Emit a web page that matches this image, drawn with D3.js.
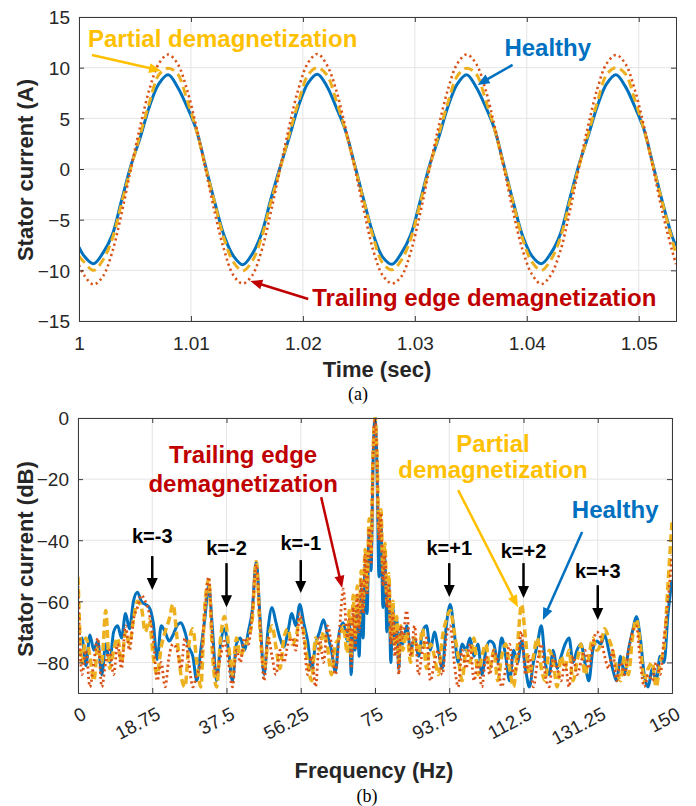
<!DOCTYPE html>
<html>
<head>
<meta charset="utf-8">
<script src="https://cdn.jsdelivr.net/npm/d3@7"></script>
<style>
  body { margin: 0; background: #fff; }
  svg { display: block; font-family: "Liberation Sans", Arial, sans-serif; }
</style>
</head>
<body>
<div id="chart"></div>
<script>
// ---------- (a) time domain ----------
const timeSec = [1.0, 1.00047,
  1.0013, 1.00213, 1.00297, 1.0038, 1.00463, 1.00547, 1.0063, 1.00713, 1.00797, 1.0088, 1.00963, 1.01047, 1.0113, 1.01213, 1.01297, 1.0138,
  1.01463, 1.01547, 1.0163, 1.01713, 1.01797, 1.0188, 1.01963, 1.02047, 1.0213, 1.02213, 1.02297, 1.0238, 1.02463, 1.02547, 1.0263, 1.02713,
  1.02797, 1.0288, 1.02963, 1.03047, 1.0313, 1.03213, 1.03297, 1.0338, 1.03463, 1.03547, 1.0363, 1.03713, 1.03797, 1.0388, 1.03963, 1.04047,
  1.0413, 1.04213, 1.04297, 1.0438, 1.04463, 1.04547, 1.0463, 1.04713, 1.04797, 1.0488, 1.04963, 1.05047, 1.0513, 1.05213, 1.05297,
  1.05333];

const healthyA = [-7.7, -8.6,
  -9.35, -8.3, -6.5, -3.1, 0.3, 3.1, 6.2, 8.4, 9.3, 8.1, 6.2, 3.9, 0.3, -3.3, -6.6, -8.6,
  -9.45, -8.4, -6.4, -3.0, 0.2, 3.2, 6.3, 8.5, 9.35, 8.2, 6.1, 3.8, 0.4, -3.2, -6.5, -8.7,
  -9.4, -8.3, -6.5, -3.2, 0.3, 3.1, 6.2, 8.4, 9.3, 8.1, 6.2, 3.9, 0.3, -3.3, -6.6, -8.6,
  -9.35, -8.35, -6.5, -3.1, 0.3, 3.2, 6.2, 8.4, 9.3, 8.15, 6.2, 3.9, 0.3, -3.3, -6.6,
  -7.6];

const partialA = [-8.6, -9.2,
  -10.0, -9.0, -6.9, -3.4, 0.1, 3.4, 6.6, 9.3, 9.95, 9.4, 6.9, 3.9, 0.2, -3.4, -6.9, -9.2,
  -10.05, -9.1, -6.8, -3.3, 0.0, 3.5, 6.7, 9.3, 10.0, 9.3, 6.8, 3.8, 0.3, -3.3, -6.8, -9.3,
  -9.95, -9.0, -6.9, -3.4, 0.1, 3.4, 6.6, 9.2, 9.95, 9.4, 6.9, 3.9, 0.2, -3.4, -6.9, -9.2,
  -10.0, -9.0, -6.9, -3.4, 0.1, 3.4, 6.6, 9.3, 10.0, 9.4, 6.9, 3.9, 0.2, -3.4, -6.9,
  -8.4];

const trailingA = [-9.5, -10.5,
  -11.4, -10.6, -8.2, -4.4, 0.0, 4.2, 7.9, 10.4, 11.3, 10.4, 7.9, 4.2, 0.0, -4.3, -8.0, -10.5,
  -11.3, -10.5, -8.1, -4.3, 0.1, 4.3, 8.0, 10.5, 11.35, 10.3, 7.8, 4.1, 0.1, -4.2, -8.1, -10.5,
  -11.3, -10.6, -8.2, -4.4, 0.0, 4.2, 7.9, 10.4, 11.3, 10.4, 7.9, 4.2, 0.0, -4.3, -8.0, -10.4,
  -11.35, -10.5, -8.2, -4.4, 0.0, 4.2, 7.9, 10.4, 11.25, 10.4, 7.9, 4.2, 0.0, -4.3, -8.0,
  -9.4];

const timeTicks = [1, 1.01, 1.02, 1.03, 1.04, 1.05];
const currentTicks = [-15, -10, -5, 0, 5, 10, 15];

// ---------- (b) spectrum ----------
// 1 Hz grid, 0.5 Hz around the fundamental
const freqHz = [...d3.range(0, 68, 1), ...d3.range(68, 82, 0.5), ...d3.range(82, 151, 1)];

const healthyDb = [
  -74, -72, -81, -71, -76, -73, -84, -74, -80, -70,
  -68, -72, -64, -69, -60, -57, -60, -61, -62, -67,
  -79, -68, -70, -73, -71, -68, -67, -70, -75, -78,
  -86, -76, -66, -55, -70, -86, -74, -69, -76, -86,
  -74, -72, -76, -70, -63, -47, -66, -84, -69, -62,
  -67, -72, -75, -70, -64, -68, -61, -67, -73, -82,
  -74, -70, -66, -71, -76, -83, -70, -67,
  -73, -66, -84, -70, -76, -62, -78, -56, -72, -48, -64, -38, -50, -15,
  0, -16, -52, -34, -62, -46, -70, -55, -80, -62, -72, -66, -82, -70,
  -74, -68, -76, -72, -78, -70, -68, -76,
  -70, -76, -82, -68, -61, -70, -80, -74, -76, -72,
  -78, -74, -84, -76, -73, -74, -80, -72, -78, -86,
  -76, -80, -73, -82, -88, -80, -74, -68, -80, -84,
  -76, -82, -78, -74, -72, -80, -76, -74, -80, -86,
  -76, -73, -74, -71, -76, -82, -86, -78, -84, -76,
  -70, -65, -72, -84, -88, -82, -86, -78, -80, -64, -53];

const partialDb = [
  -52, -80, -72, -78, -86, -75, -80, -63, -82, -76,
  -72, -80, -70, -74, -66, -60, -62, -70, -66, -78,
  -84, -75, -70, -66, -61, -72, -84, -88, -74, -69,
  -80, -88, -62, -53, -78, -88, -72, -65, -74, -84,
  -72, -78, -75, -72, -66, -47, -70, -82, -73, -68,
  -75, -82, -72, -69, -74, -72, -66, -70, -80, -86,
  -72, -76, -70, -75, -84, -74, -72, -68,
  -77, -63, -78, -58, -72, -55, -68, -50, -62, -43, -56, -33, -44, -12,
  0, -12, -38, -30, -50, -41, -60, -51, -72, -60, -75, -65, -80, -68,
  -76, -70, -80, -72, -77, -69, -82, -74,
  -78, -84, -72, -66, -63, -70, -78, -86, -76, -80,
  -72, -84, -78, -74, -82, -76, -86, -78, -74, -82,
  -88, -74, -61, -72, -84, -78, -72, -82, -86, -76,
  -80, -88, -78, -82, -76, -86, -80, -74, -84, -78,
  -72, -76, -74, -69, -72, -76, -82, -86, -78, -84,
  -72, -66, -74, -86, -82, -80, -88, -80, -75, -54, -34];

const trailingDb = [
  -55, -84, -76, -88, -80, -72, -88, -80, -76, -84,
  -74, -82, -68, -76, -66, -62, -58, -60, -64, -72,
  -86, -80, -88, -78, -74, -76, -82, -72, -80, -88,
  -84, -80, -64, -52, -74, -84, -78, -73, -80, -88,
  -76, -80, -72, -74, -64, -48, -68, -86, -72, -78,
  -84, -76, -80, -74, -72, -76, -64, -72, -84, -78,
  -88, -72, -80, -68, -74, -84, -70, -56,
  -72, -66, -82, -62, -76, -58, -70, -53, -64, -45, -58, -36, -48, -13,
  0, -13, -40, -31, -55, -44, -62, -54, -74, -64, -78, -70, -84, -68,
  -72, -63, -78, -68, -84, -76, -72, -86,
  -80, -76, -84, -72, -68, -80, -88, -76, -82, -74,
  -86, -80, -88, -78, -84, -76, -80, -88, -82, -74,
  -84, -80, -70, -84, -78, -88, -80, -74, -84, -88,
  -78, -82, -86, -80, -88, -78, -84, -80, -76, -82,
  -74, -70, -72, -78, -82, -76, -86, -80, -84, -76,
  -70, -68, -80, -88, -84, -86, -80, -84, -72, -60, -45];

const freqTicks = [0, 18.75, 37.5, 56.25, 75, 93.75, 112.5, 131.25, 150];
const dbTicks = [-80, -60, -40, -20, 0];

// harmonic markers k = -3..+3 (label baseline dB, arrow from/to dB)
const kLabels = ["k=-3", "k=-2", "k=-1", "k=+1", "k=+2", "k=+3"];
const kFreq = [18.75, 37.5, 56.25, 93.75, 112.5, 131.25];
const kTextDb = [-40.9, -44.8, -43.2, -44.8, -45.8, -52.4];
const kArrowDb = [[-45.2, -56.3], [-47.5, -61.9], [-46.5, -57.3], [-47.5, -58.6], [-47.5, -58.9], [-54.7, -66.1]];

const colors = {healthy: "#0072BD", partial: "#EDB120", trailing: "#D95319"};
const textColors = {healthy: "#0070C0", partial: "#FFC000", trailing: "#C00000"};

// ---------- drawing ----------
const svg = d3.select("#chart").append("svg").attr("width", 696).attr("height", 806);

const defs = svg.append("defs");

function drawFrame(g, x, y, xTickVals, yTickVals, xFmt, rotateX) {
    let [x0, x1] = x.range();
    let [y1, y0] = y.range();

    // grid
    g.append("g").selectAll("line").data(xTickVals).enter().append("line")
        .attr("x1", d => x(d)).attr("x2", d => x(d)).attr("y1", y0).attr("y2", y1)
        .attr("stroke", "#e4e4e4").attr("stroke-width", 1);
    g.append("g").selectAll("line").data(yTickVals).enter().append("line")
        .attr("x1", x0).attr("x2", x1).attr("y1", d => y(d)).attr("y2", d => y(d))
        .attr("stroke", "#e4e4e4").attr("stroke-width", 1);
}

function drawAxes(g, x, y, xTickVals, yTickVals, xFmt, rotateX) {
    let [x0, x1] = x.range();
    let [y1, y0] = y.range();

    let xb = g.append("g").attr("transform", `translate(0,${y1})`)
        .call(d3.axisBottom(x).tickValues(xTickVals).tickSize(-5).tickPadding(16).tickFormat(xFmt));
    let yl = g.append("g").attr("transform", `translate(${x0},0)`)
        .call(d3.axisLeft(y).tickValues(yTickVals).tickSize(-5).tickPadding(9));
    g.append("g").attr("transform", `translate(0,${y0})`)
        .call(d3.axisTop(x).tickValues(xTickVals).tickSize(-5).tickFormat(""));
    g.append("g").attr("transform", `translate(${x1},0)`)
        .call(d3.axisRight(y).tickValues(yTickVals).tickSize(-5).tickFormat(""));

    g.selectAll(".domain").attr("stroke", "#3a3a3a");
    g.selectAll(".tick line").attr("stroke", "#3a3a3a");
    g.selectAll(".tick text").attr("fill", "#262626").style("font-size", "19px")
        .style("font-family", "'Liberation Sans', Arial, sans-serif");
    yl.selectAll(".tick text").attr("dy", "0.36em");

    if (rotateX) {
        xb.selectAll(".tick text")
            .attr("x", 0).attr("y", 0).attr("dy", 0)
            .attr("text-anchor", "end")
            .attr("transform", "translate(9,25) rotate(-28)");
    }
}

function drawArrow(g, p1, p2, color, w, headLen, headW) {
    let dx = p2[0] - p1[0], dy = p2[1] - p1[1];
    let len = Math.sqrt(dx * dx + dy * dy);
    let ux = dx / len, uy = dy / len;
    let bx = p2[0] - ux * headLen, by = p2[1] - uy * headLen;
    g.append("line")
        .attr("x1", p1[0]).attr("y1", p1[1]).attr("x2", bx + ux).attr("y2", by + uy)
        .attr("stroke", color).attr("stroke-width", w);
    g.append("path")
        .attr("d", `M${p2[0]},${p2[1]}L${bx - uy * headW / 2},${by + ux * headW / 2}L${bx + uy * headW / 2},${by - ux * headW / 2}Z`)
        .attr("fill", color);
}

function addText(g, x, y, str, opts) {
    let t = g.append("text").attr("x", x).attr("y", y)
        .attr("text-anchor", opts.anchor || "start")
        .attr("fill", opts.color || "#000")
        .style("font-size", (opts.size || 24) + "px")
        .style("font-weight", opts.weight || "bold")
        .text(str);
    if (opts.family) t.style("font-family", opts.family);
    if (opts.rotate) t.attr("transform", `rotate(-90,${x},${y})`);
    return t;
}

// ===== (a) =====
const gA = svg.append("g");
const xT = d3.scaleLinear().domain([1, 1.05333]).range([79, 676]);
const yT = d3.scaleLinear().domain([-15, 15]).range([321, 17]);

defs.append("clipPath").attr("id", "clipA").append("rect")
    .attr("x", 79).attr("y", 17).attr("width", 597).attr("height", 304);

drawFrame(gA, xT, yT, timeTicks, currentTicks);

const timeRows = timeSec.map((t, i) => ({t: t, h: healthyA[i], p: partialA[i], r: trailingA[i]}));
const lineA = key => d3.line().x(d => xT(d.t)).y(d => yT(d[key])).curve(d3.curveCatmullRom.alpha(0.5));

const plotA = gA.append("g").attr("clip-path", "url(#clipA)");
plotA.append("path").datum(timeRows).attr("d", lineA("h"))
    .attr("fill", "none").attr("stroke", colors.healthy).attr("stroke-width", 3);
plotA.append("path").datum(timeRows).attr("d", lineA("p"))
    .attr("fill", "none").attr("stroke", colors.partial).attr("stroke-width", 3)
    .attr("stroke-dasharray", "9,5");
plotA.append("path").datum(timeRows).attr("d", lineA("r"))
    .attr("fill", "none").attr("stroke", colors.trailing).attr("stroke-width", 2.6)
    .attr("stroke-dasharray", "2.2,3.2");

drawAxes(gA, xT, yT, timeTicks, currentTicks, d => d === 1 ? "1" : d.toFixed(2), false);

// annotations (a)
addText(gA, xT(1.0008), yT(12.0), "Partial demagnetization", {color: textColors.partial});
drawArrow(gA, [xT(1.00116), yT(11.25)], [xT(1.00733), yT(9.7)], textColors.partial, 2.5, 12, 10);
addText(gA, xT(1.0380), yT(11.15), "Healthy", {color: textColors.healthy});
drawArrow(gA, [xT(1.03873), yT(10.27)], [xT(1.0356), yT(8.3)], textColors.healthy, 2.5, 12, 10);
addText(gA, xT(1.02084), yT(-13.5), "Trailing edge demagnetization", {color: textColors.trailing});
drawArrow(gA, [xT(1.02048), yT(-12.83)], [xT(1.0153), yT(-11.05)], textColors.trailing, 2.5, 12, 10);

addText(gA, 33, 170, "Stator current (A)", {anchor: "middle", size: 22, rotate: true, color: "#262626"});
addText(gA, 377, 377, "Time (sec)", {anchor: "middle", size: 22, color: "#262626"});
addText(gA, 358, 400, "(a)", {anchor: "middle", size: 18, weight: "normal", family: "'Liberation Serif', 'Times New Roman', serif"});

// ===== (b) =====
const gB = svg.append("g");
const xF = d3.scaleLinear().domain([0, 150]).range([78, 672]);
const yF = d3.scaleLinear().domain([-90, 0]).range([693, 418]);

defs.append("clipPath").attr("id", "clipB").append("rect")
    .attr("x", 78).attr("y", 417).attr("width", 594).attr("height", 276);

drawFrame(gB, xF, yF, freqTicks, dbTicks);

const freqRows = freqHz.map((f, i) => ({f: f, h: healthyDb[i], p: partialDb[i], r: trailingDb[i]}));
const lineB = key => d3.line().x(d => xF(d.f)).y(d => yF(d[key])).curve(d3.curveMonotoneX);

const plotB = gB.append("g").attr("clip-path", "url(#clipB)");
plotB.append("path").datum(freqRows).attr("d", lineB("h"))
    .attr("fill", "none").attr("stroke", colors.healthy).attr("stroke-width", 3);
plotB.append("path").datum(freqRows).attr("d", lineB("p"))
    .attr("fill", "none").attr("stroke", colors.partial).attr("stroke-width", 3.5)
    .attr("stroke-dasharray", "8,4");
plotB.append("path").datum(freqRows).attr("d", lineB("r"))
    .attr("fill", "none").attr("stroke", colors.trailing).attr("stroke-width", 2.8)
    .attr("stroke-dasharray", "2.2,3");

drawAxes(gB, xF, yF, freqTicks, dbTicks, d => String(d), true);

// annotations (b)
addText(gB, xF(41.7), yF(-14.7), "Trailing edge", {anchor: "middle", color: textColors.trailing});
addText(gB, xF(41.7), yF(-24.2), "demagnetization", {anchor: "middle", color: textColors.trailing});
drawArrow(gB, [xF(61.4), yF(-25.9)], [xF(66.7), yF(-55.6)], textColors.trailing, 2.5, 12, 10);

addText(gB, xF(104.8), yF(-11.1), "Partial", {anchor: "middle", color: textColors.partial});
addText(gB, xF(104.8), yF(-19.5), "demagnetization", {anchor: "middle", color: textColors.partial});
drawArrow(gB, [xF(96), yF(-23.6)], [xF(111.1), yF(-61.9)], textColors.partial, 2.5, 12, 10);

addText(gB, xF(124.7), yF(-32.7), "Healthy", {color: textColors.healthy});
drawArrow(gB, [xF(127.3), yF(-37.3)], [xF(117.4), yF(-66.1)], textColors.healthy, 2.5, 12, 10);

kLabels.forEach((lab, i) => {
    addText(gB, xF(kFreq[i]), yF(kTextDb[i]), lab, {anchor: "middle", size: 20, color: "#000"});
    drawArrow(gB, [xF(kFreq[i]), yF(kArrowDb[i][0])], [xF(kFreq[i]), yF(kArrowDb[i][1])], "#000", 2.5, 12, 11);
});

addText(gB, 33, 559, "Stator current (dB)", {anchor: "middle", size: 22, rotate: true, color: "#262626"});
addText(gB, 374, 778, "Frequency (Hz)", {anchor: "middle", size: 22, color: "#262626"});
addText(gB, 367, 802, "(b)", {anchor: "middle", size: 18, weight: "normal", family: "'Liberation Serif', 'Times New Roman', serif"});
</script>
</body>
</html>
